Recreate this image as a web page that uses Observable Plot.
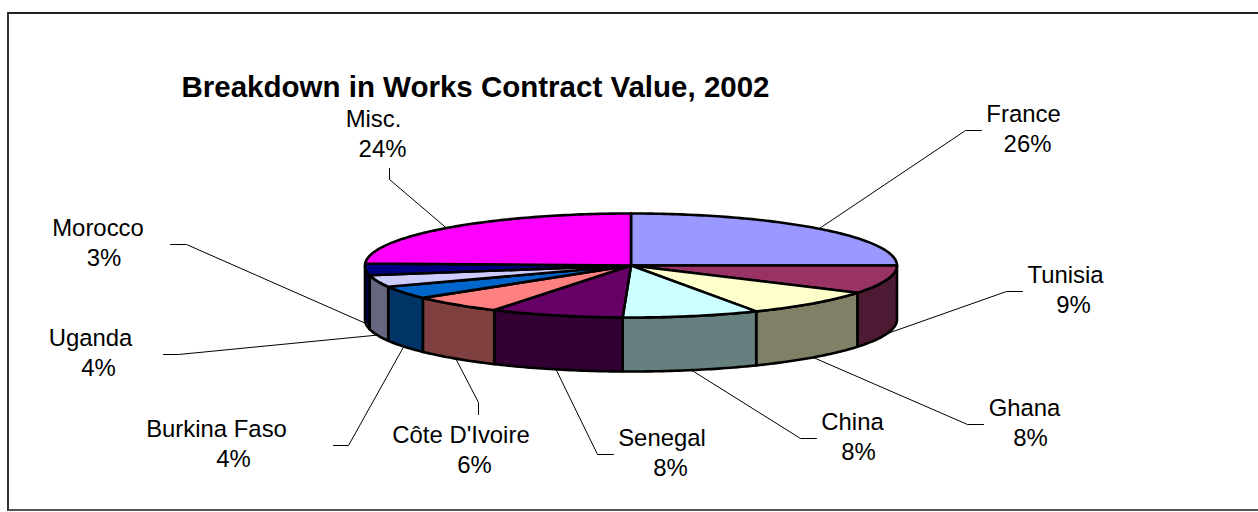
<!DOCTYPE html>
<html>
<head>
<meta charset="utf-8">
<script src="https://cdn.jsdelivr.net/npm/d3@7"></script>
<script src="https://cdn.jsdelivr.net/npm/@observablehq/plot@0.6"></script>
<style>
  html, body { margin: 0; padding: 0; background: #fff; overflow: hidden; }
  #frame { position: absolute; left: 7px; top: 12px; width: 1260px; height: 495px;
           border-left: 2px solid #333; border-top: 2px solid #222; border-bottom: 2px solid #555; }
  #chart { position: absolute; left: 0; top: 0; }
  svg { display: block; background: transparent !important; }
</style>
</head>
<body>
<div id="frame"></div>
<div id="chart"></div>
<script>
const chartTitle = "Breakdown in Works Contract Value, 2002";
const countries = ["France", "Tunisia", "Ghana", "China", "Senegal", "Côte D'Ivoire", "Burkina Faso", "Uganda", "Morocco", "Misc."];
// Slice sizes; printed percentages as printed on it.
const shares = [25.0, 8.8, 8.4, 8.3, 8.1, 5.7, 4.0, 3.7, 3.6, 24.4];
const printedPercents = [26, 9, 8, 8, 8, 6, 4, 4, 3, 24];
const topColors = ["#9999FF", "#993366", "#FFFFCC", "#CCFFFF", "#660066", "#FF8080", "#0066CC", "#CCCCFF", "#000080", "#FF00FF"];
const sideColors = ["#4D4D80", "#4D1A33", "#808066", "#668080", "#330033", "#804040", "#003366", "#666680", "#000040", "#800080"];

// Pie frame: the x and y scales map the unit ellipse onto the page.
const cx = 630.5, cy = 265, rx = 266, ry = 52, depthPx = 54;
const depth = depthPx / ry;
const unitX = (px) => (px - cx) / rx;
const unitY = (py) => (cy - py) / ry;

// Label layout in page pixels: name centre, name baseline, percent centre, elbow, tail end.
const labelNameX = [1023, 1065, 1024, 852, 661.5, 460.5, 216, 90, 97.5, 373];
const labelBaseY = [121, 282, 415, 429, 445, 442, 436, 345, 235, 126];
const labelPctX = [1027, 1073, 1030, 858, 670, 474, 233, 98, 103.5, 382];
const elbowX = [965, 1006, 967, 800, 597, 478, 348, 178, 186, 389];
const elbowY = [130, 291, 424, 438, 454, 402, 445, 354, 244, 179];
const tailX = [981, 1022, 983, 816, 613, 478, 333, 163, 170, 389];
const tailY = [130, 291, 424, 438, 454, 414, 445, 354, 244, 168];
const lineGap = 30;

const total = d3.sum(shares);
const cum = d3.cumsum(shares).map((v) => v / total);
const slices = countries.map((name, i) => ({
  name, i, a: i ? cum[i - 1] : 0, b: cum[i],
  top: topColors[i], side: sideColors[i]
}));
const rim = (f) => ({ u: Math.sin(2 * Math.PI * f), v: Math.cos(2 * Math.PI * f) });
const arc = (a, b) => {
  const n = Math.max(2, Math.ceil((b - a) * 400));
  return d3.range(n + 1).map((k) => rim(a + (b - a) * k / n));
};

const topRows = slices.flatMap((s) => [
  { key: s.name, color: s.top, u: 0, v: 0 },
  ...arc(s.a, s.b).map((p) => ({ key: s.name, color: s.top, ...p }))
]);
const wallRows = slices.filter((s) => s.b > 0.25 && s.a < 0.75).flatMap((s) => {
  const a = Math.max(s.a, 0.25), b = Math.min(s.b, 0.75);
  const upper = arc(a, b);
  const lower = upper.slice().reverse().map((p) => ({ u: p.u, v: p.v - depth }));
  return [...upper, ...lower].map((p) => ({ key: s.name, color: s.side, ...p }));
});
const leaderRows = slices.flatMap((s) => {
  const mid = (s.a + s.b) / 2;
  const p = rim(mid);
  const front = mid > 0.25 && mid < 0.75;
  return [
    { key: s.name, u: p.u, v: front ? p.v - depth : p.v },
    { key: s.name, u: unitX(elbowX[s.i]), v: unitY(elbowY[s.i]) },
    { key: s.name, u: unitX(tailX[s.i]), v: unitY(tailY[s.i]) }
  ];
});
const labelRows = slices.map((s) => ({
  name: s.name,
  pct: printedPercents[s.i] + "%",
  nu: unitX(labelNameX[s.i]),
  pu: unitX(labelPctX[s.i]),
  nv: unitY(labelBaseY[s.i]),
  pv: unitY(labelBaseY[s.i] + lineGap)
}));

const labelFont = { fontFamily: "Liberation Sans, Arial, sans-serif", fontSize: 23.9, fill: "#000", lineAnchor: "bottom", textAnchor: "middle" };
const edge = { stroke: "#000", strokeWidth: 2.6, strokeLinejoin: "round", curve: "linear-closed" };

const plot = Plot.plot({
  width: 1258, height: 512,
  marginTop: 0, marginRight: 0, marginBottom: 0, marginLeft: 0,
  style: { background: "transparent" },
  x: { domain: [-1, 1], range: [cx - rx, cx + rx], axis: null },
  y: { domain: [-1, 1], range: [cy + ry, cy - ry], axis: null },
  color: { type: "identity" },
  marks: [
    Plot.line(leaderRows, { x: "u", y: "v", z: "key", stroke: "#000", strokeWidth: 1 }),
    Plot.line(wallRows, { x: "u", y: "v", z: "key", fill: "color", ...edge }),
    Plot.line(topRows, { x: "u", y: "v", z: "key", fill: "color", ...edge }),
    Plot.text(labelRows, { x: "nu", y: "nv", text: "name", ...labelFont }),
    Plot.text(labelRows, { x: "pu", y: "pv", text: "pct", ...labelFont }),
    Plot.text([chartTitle], {
      x: unitX(475), y: unitY(96.5), text: (d) => d,
      fontFamily: "Liberation Sans, Arial, sans-serif", fontSize: 29.5, fontWeight: "bold",
      fill: "#000", lineAnchor: "bottom", textAnchor: "middle"
    })
  ]
});
document.getElementById("chart").appendChild(plot);
</script>
</body>
</html>
